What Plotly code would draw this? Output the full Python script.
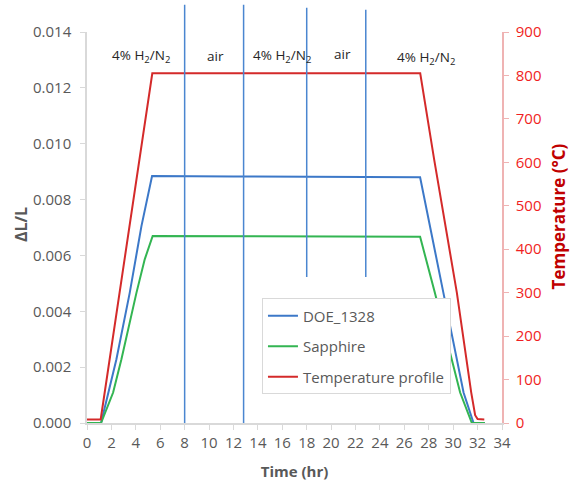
import plotly.graph_objects as go

# Dilatometry run: sample expansion (ΔL/L) and furnace temperature vs. time
time_doe = [0, 1.15, 2.41, 3.5, 4.46, 5.33, 12, 20, 27.29, 29.2, 30.3, 30.85, 31.67, 32.6]
dl_doe = [0, 0, 0.00228, 0.00466, 0.00705, 0.00884, 0.00883, 0.00882, 0.00880,
          0.00466, 0.00228, 0.00109, 0, 0]

time_sap = [0, 1.15, 2.14, 2.82, 4.05, 4.73, 5.38, 16, 27.29, 28.5, 29.9, 30.57, 31.53, 32.6]
dl_sap = [0, 0, 0.00109, 0.00228, 0.00466, 0.00586, 0.00670, 0.00669, 0.00667,
          0.00466, 0.00228, 0.00109, 0, 0]

time_temp = [0, 1.12, 5.35, 27.3, 28.44, 30.3, 31.48, 31.8, 32.0, 32.55]
temp_c = [8, 8, 805, 805, 607, 300, 70, 18, 9, 8]

# Gas switch times (hr) and the atmosphere in each interval
switch_times = [8.0, 12.83, 18.0, 22.84]
gas_labels = ["4% H<sub>2</sub>/N<sub>2</sub>", "air", "4% H<sub>2</sub>/N<sub>2</sub>",
              "air", "4% H<sub>2</sub>/N<sub>2</sub>"]
gas_label_x = [4.4, 10.52, 15.97, 20.94, 27.79]

FONT = "Open Sans"
GRAY = "#595959"
AXIS = "#D9D9D9"

fig = go.Figure()
fig.add_trace(go.Scatter(x=time_doe, y=dl_doe, mode="lines", name="DOE_1328",
                         line=dict(color="#3C78C8", width=2), legendgroup="a"))
fig.add_trace(go.Scatter(x=time_sap, y=dl_sap, mode="lines", name="Sapphire",
                         line=dict(color="#33B552", width=2), legendgroup="b"))
fig.add_trace(go.Scatter(x=time_temp, y=temp_c, mode="lines", name="Temperature profile",
                         line=dict(color="#D42A2A", width=2), yaxis="y2", legendgroup="c"))

# Vertical markers at each gas switch
line_tops = [1.070, 1.070, 1.062, 1.057]
line_bottoms = [0, 0, 0.3735, 0.3735]
for t, y0, y1 in zip(switch_times, line_bottoms, line_tops):
    fig.add_shape(type="line", xref="x", yref="paper", x0=t, x1=t, y0=y0, y1=y1,
                  line=dict(color="#4A86D0", width=1.5), layer="above")

label_y = [0.9377, 0.9395, 0.9377, 0.944, 0.934]
for txt, x, y in zip(gas_labels, gas_label_x, label_y):
    fig.add_annotation(text=txt, x=x, y=y, xref="x", yref="paper", showarrow=False,
                       font=dict(family=FONT, size=13.5, color="#262626"),
                       xanchor="center", yanchor="middle")

# Axis titles
fig.add_annotation(text="<b>ΔL/L</b>", x=-0.1576, y=0.5077, xref="paper", yref="paper",
                   showarrow=False, textangle=-90, xanchor="center", yanchor="middle",
                   font=dict(family=FONT, size=16, color=GRAY))
fig.add_annotation(text="<b>Temperature (°C)</b>", xref="paper", yref="paper",
                   x=1.137, y=0.528, showarrow=False, textangle=-90,
                   font=dict(family=FONT, size=17, color="#C00000"),
                   xanchor="center", yanchor="middle")

fig.update_layout(
    width=577, height=491,
    margin=dict(l=87, r=75, t=32, b=68),
    paper_bgcolor="white", plot_bgcolor="white",
    font=dict(family=FONT, size=15, color=GRAY),
    showlegend=True,
    legend=dict(x=0.4216, y=0.3186, xanchor="left", yanchor="top",
                bgcolor="white", bordercolor=AXIS, borderwidth=1,
                font=dict(family=FONT, size=15, color=GRAY),
                tracegroupgap=8, traceorder="grouped", itemwidth=30),
    xaxis=dict(range=[0, 34], dtick=2, tick0=0, showgrid=False, zeroline=False,
               showline=True, linecolor=AXIS, linewidth=1.5,
               ticks="outside", ticklen=5, tickcolor=AXIS,
               tickfont=dict(family=FONT, size=15, color=GRAY),
               title=dict(text="<b>Time (hr)</b>", standoff=16,
                          font=dict(family=FONT, size=15, color=GRAY))),
    yaxis=dict(range=[0, 0.014], dtick=0.002, tickformat=".3f", showgrid=False,
               zeroline=False, showline=True, linecolor=AXIS, linewidth=1.5,
               ticks="outside", ticklen=5, tickcolor=AXIS, ticklabelstandoff=6,
               tickfont=dict(family=FONT, size=15, color=GRAY)),
    yaxis2=dict(range=[0, 900], dtick=100, overlaying="y", side="right",
                showgrid=False, zeroline=False, showline=True,
                linecolor="#EFB3B3", linewidth=1.5,
                ticks="outside", ticklen=5, tickcolor="#EFB3B3", ticklabelstandoff=4,
                tickfont=dict(family=FONT, size=15, color="#F01E23")),
)

fig.write_html("out.html")
